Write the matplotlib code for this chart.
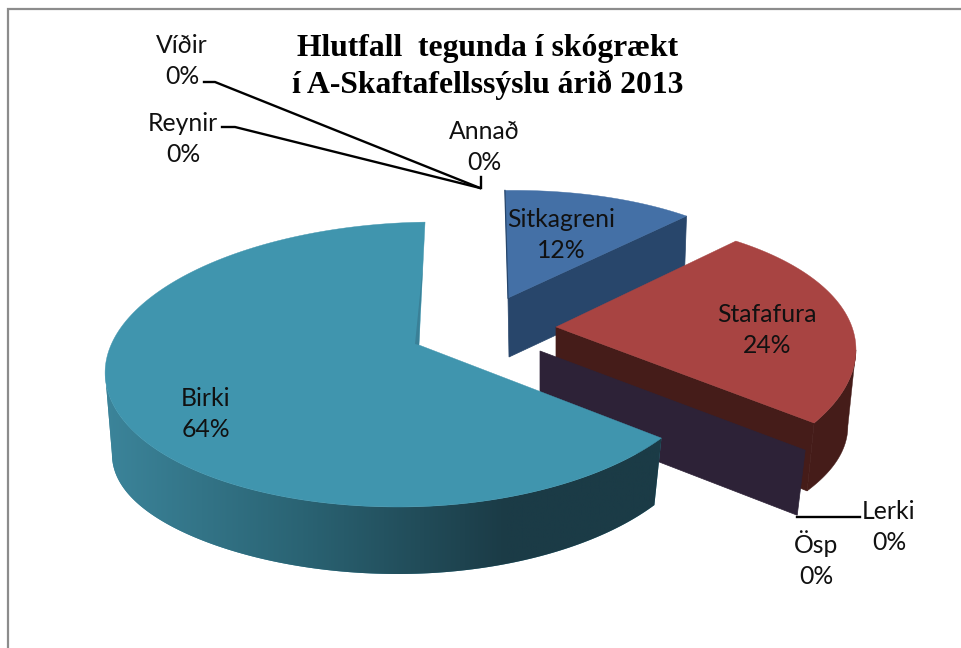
#!/usr/bin/env python3

import numpy as np
import matplotlib
matplotlib.use('Agg')
import matplotlib.pyplot as plt
from matplotlib.colors import LinearSegmentedColormap

# data, clockwise from the top
names = ['Sitkagreni', 'Stafafura', 'Lerki', 'Ösp', 'Birki', 'Reynir', 'Víðir', 'Annað']
values = [12, 24, 0, 0, 64, 0, 0, 0]
title = 'Hlutfall  tegunda í skógrækt\ní A-Skaftafellssýslu árið 2013'

start_angle = 92

# where each slice sits in the fake 3d view (excel perspective, exploded)
# x, y = apex on the top face, rx, rl = radius right/left, ry, k = perspective, s = skew
# dx, dy, fx = bottom face relative to top face, dl, dr = extra depth at the far left/right
view = {
    'Sitkagreni': dict(x=508, y=298, rx=274, rl=274, ry=113, k=0.05, s=0.023, dx=1, dy=59, fx=0.983, dl=0, dr=0),
    'Stafafura': dict(x=556, y=327, rx=296, rl=296, ry=134.6, k=0.237, s=0.076, dx=0, dy=62, fx=0.973, dl=0, dr=15),
    'Ösp': dict(x=540, y=351, rx=310.6, rl=310.6, ry=142.8, k=0.2, s=0.07, dx=0, dy=65, fx=0.97, dl=0, dr=0),
    'Birki': dict(x=419, y=345, rx=294, rl=308, ry=139.8, k=0.137, s=0.06, dx=-1, dy=67, fx=0.975, dl=15, dr=0),
}
face_colors = {'Sitkagreni': '#4470a6', 'Stafafura': '#a84442', 'Ösp': '#2d2237', 'Birki': '#4095ae'}
wall_colors = {'Sitkagreni': '#28466b', 'Stafafura': '#451c19', 'Ösp': '#2d2237', 'Birki': '#1b3b46'}

label_pos = {
    'Sitkagreni': (561, 235), 'Stafafura': (767, 330), 'Birki': (206, 414),
    'Lerki': (889, 527), 'Ösp': (816, 559), 'Reynir': (183, 139),
    'Víðir': (182, 61), 'Annað': (484, 147),
}


def top_pts(theta, v):
    t = np.radians(theta)
    u, w = np.cos(t), np.sin(t)
    d = 1 + v['k'] * w
    r = np.where(u < 0, v['rl'], v['rx'])
    return v['x'] + (r * u + v['rx'] * v['s'] * w) / d, v['y'] - v['ry'] * w / d


def bottom_pts(theta, v):
    x, y = top_pts(theta, v)
    u = np.cos(np.radians(theta))
    extra = np.where(u < 0, v['dl'], v['dr']) * u ** 4
    return v['x'] + v['dx'] + (x - v['x']) * v['fx'], y + v['dy'] + extra


fig = plt.figure(figsize=(9.62, 6.48), dpi=100)
ax = fig.add_axes([0, 0, 1, 1])
ax.axis('off')

# chart frame, only left and top show in the screenshot
ax.plot([8, 8, 962], [648, 9, 9], color='#8c8c8c', lw=1.6, solid_joinstyle='miter')

# angles from the values
shares = np.array(values) / sum(values) * 360
ends = start_angle - np.cumsum(shares)
starts = ends + shares
angles = {n: (a, b) for n, a, b in zip(names, starts, ends)}

for name in ['Sitkagreni', 'Stafafura', 'Ösp', 'Birki']:
    v = view[name]
    a0, a1 = angles[name]
    share = shares[names.index(name)]
    th = np.linspace(a0, a1, 240)
    tx, ty = top_pts(th, v)
    bx, by = bottom_pts(th, v)
    x0, y0 = v['x'], v['y']
    x1, y1 = x0 + v['dx'], y0 + v['dy']

    # wall under the trailing edge, birki hides its own
    if name != 'Birki':
        ax.fill([x0, tx[-1], bx[-1], x1], [y0, ty[-1], by[-1], y1], color=wall_colors[name], lw=0.5)

    # outer wall, between the silhouette point and the front end of the arc
    if name == 'Birki':
        i, j = np.argmin(tx), np.argmin(bx)
        wx = np.r_[tx[:i + 1], bx[:j + 1][::-1]]
        wy = np.r_[ty[:i + 1], by[:j + 1][::-1]]
        poly = ax.fill(wx, wy, color='#3c859b', zorder=1.4, lw=0)[0]
        # gradient, lit from the left, dark from about x=510 on
        cmap = LinearSegmentedColormap.from_list('wall', [(0, '#3c859b'), (0.35, '#2a6373'),
                                                          (0.7, wall_colors[name]), (1, wall_colors[name])])
        grad = np.linspace(0, 1, 256)[None, :]
        im = ax.imshow(grad, cmap=cmap, extent=(100, 680, 600, 300), aspect='auto', zorder=1.5)
        im.set_clip_path(poly)
    elif name == 'Stafafura':
        i, j = np.argmax(tx), np.argmax(bx)
        ax.fill(np.r_[tx[i:], bx[j:][::-1]], np.r_[ty[i:], by[j:][::-1]], color=wall_colors[name], lw=0.3)

    # top face
    if share > 0:
        ax.fill(np.r_[x0, tx], np.r_[y0, ty], color=face_colors[name], lw=0.3,
                zorder=2 if name == 'Birki' else 1)

# thin edges left of the cut-outs
v = view['Sitkagreni']
sx, sy = top_pts(angles['Sitkagreni'][0], v)
ax.plot([sx, v['x']], [sy, v['y']], color='#27466b', lw=0.9)

v = view['Birki']
sx, sy = top_pts(angles['Birki'][1], v)
mx, my = v['x'] + (sx - v['x']) * 0.65, v['y'] + (sy - v['y']) * 0.65
ax.fill([mx, v['x'] - 4, v['x'], v['x'] + 1], [my, v['y'] - 1, v['y'], v['y'] - 30], color='#3a8097', lw=0, zorder=2.1)

# leader lines
ax.plot([204, 215, 480], [82, 82, 188], color='black', lw=1.7, zorder=3)
ax.plot([222, 235, 480], [127, 127, 188], color='black', lw=1.7, zorder=3)
ax.plot([481, 481], [177, 188], color='black', lw=1.7, zorder=3)
ax.plot([797, 860], [517, 517], color='black', lw=1.7, zorder=3)

# data labels
for name, val in zip(names, values):
    lx, ly = label_pos[name]
    ax.text(lx, ly, f'{name}\n{val}%', ha='center', va='center', family='Lato',
            fontsize=17.8, color='#111111', linespacing=1.42, zorder=4)

ax.text(488, 67, title, ha='center', va='center', family='Liberation Serif',
        fontweight='bold', fontsize=22.8, color='black', linespacing=1.32, zorder=4)

ax.set_xlim(0, 962)
ax.set_ylim(648, 0)

fig.savefig('out.png', dpi=100)
